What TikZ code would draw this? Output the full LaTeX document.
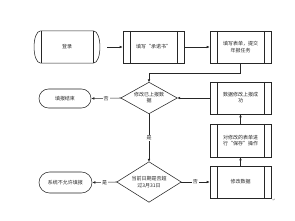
\documentclass[tikz,border=0pt]{standalone}
\usepackage{fontspec}
\newfontfamily\cjk{Noto Sans CJK SC}
\newfontfamily\djv{DejaVu Sans}
\usetikzlibrary{shapes.misc,arrows.meta}
\tikzset{
  every node/.style={font=\cjk\fontsize{5}{6.2}\selectfont, text=black!85, align=center, inner sep=0pt},
  ln/.style={draw=black!85, line width=0.55pt},
  arr/.style={ln, -{Latex[length=3pt,width=2.6pt]}},
  ppbox/.style={ln, rectangle, minimum width=61pt, minimum height=32pt,
    path picture={
      \draw[ln] ([xshift=7pt]path picture bounding box.north west) -- ([xshift=7pt]path picture bounding box.south west);
      \draw[ln] ([xshift=-7pt]path picture bounding box.north east) -- ([xshift=-7pt]path picture bounding box.south east);
    }},
  term/.style={ln, rounded rectangle, minimum height=19pt},
  dia/.style={rectangle, minimum width=56pt, minimum height=31pt},
  lab/.style={fill=white, inner sep=1pt}
}
\begin{document}
\begin{tikzpicture}[x=1pt,y=-1pt]
\useasboundingbox (0,0) rectangle (295,221);
% login drum
\node[minimum width=66pt, minimum height=32pt] (dl) at (67,47) {登录};
\draw[ln] ([xshift=7pt]dl.north west) -- ([xshift=-7pt]dl.north east)
  .. controls +(9,0) and +(9,0) .. ([xshift=-7pt]dl.south east)
  -- ([xshift=7pt]dl.south west)
  .. controls +(-9,0) and +(-9,0) .. ([xshift=7pt]dl.north west);
\draw[ln] ([xshift=7pt]dl.north west) -- ([xshift=7pt]dl.south west);
\draw[ln] ([xshift=-7pt]dl.north east) -- ([xshift=-7pt]dl.south east);

\node[ppbox] (cn) at (153.5,47) {填写“承诺书”};
\node[ppbox] (bd) at (240.5,47) {填写表单，提交\\年报任务};

\node[dia] (d1) at (149,98) {修改已上报数\\据};
\draw[ln] (d1.north) -- (d1.east) -- (d1.south) -- (d1.west) -- cycle;
\node[term, minimum width=52pt] (ed) at (65,98.5) {填报结束};
\node[ppbox] (cg) at (240.5,98) {数据修改上报成\\功};
\node[ppbox, minimum height=33pt] (bc) at (240.5,140.5) {对修改的表单进\\行“保存”操作};

\node[dia, minimum width=64pt, minimum height=40pt] (d2) at (149,182) {当前日期是否超\\过3月31日};
\draw[ln] (d2.north) -- (d2.east) -- (d2.south) -- (d2.west) -- cycle;
\node[term, minimum width=53pt, minimum height=21pt] (ny) at (65.5,182.5) {系统不允许填报};
\node[ppbox] (xg) at (240.5,182) {修改数据};

\draw[arr] ([xshift=7pt]dl.east) -- (cn.west);
\draw[arr] (cn.east) -- (bd.west);
\draw[arr] (bd.south) -- ++(0,10) -| (d1.north);
\draw[arr] (d1.west) -- node[lab] {否} (ed.east);
\draw[arr] (cg.west) -- (d1.east);
\draw[arr] (bc.north) -- (cg.south);
\draw[arr] (xg.north) -- (bc.south);
\draw[arr] (d1.south) -- node[lab] {是} (d2.north);
\draw[arr] (d2.west) -- node[lab] {是} (ny.east);
\draw[arr] (d2.east) -- node[lab] {否} (xg.west);
\node[font=\djv\fontsize{4}{4}\selectfont, text=black!50] (pm) at (274,200) {↵};
\end{tikzpicture}
\end{document}
